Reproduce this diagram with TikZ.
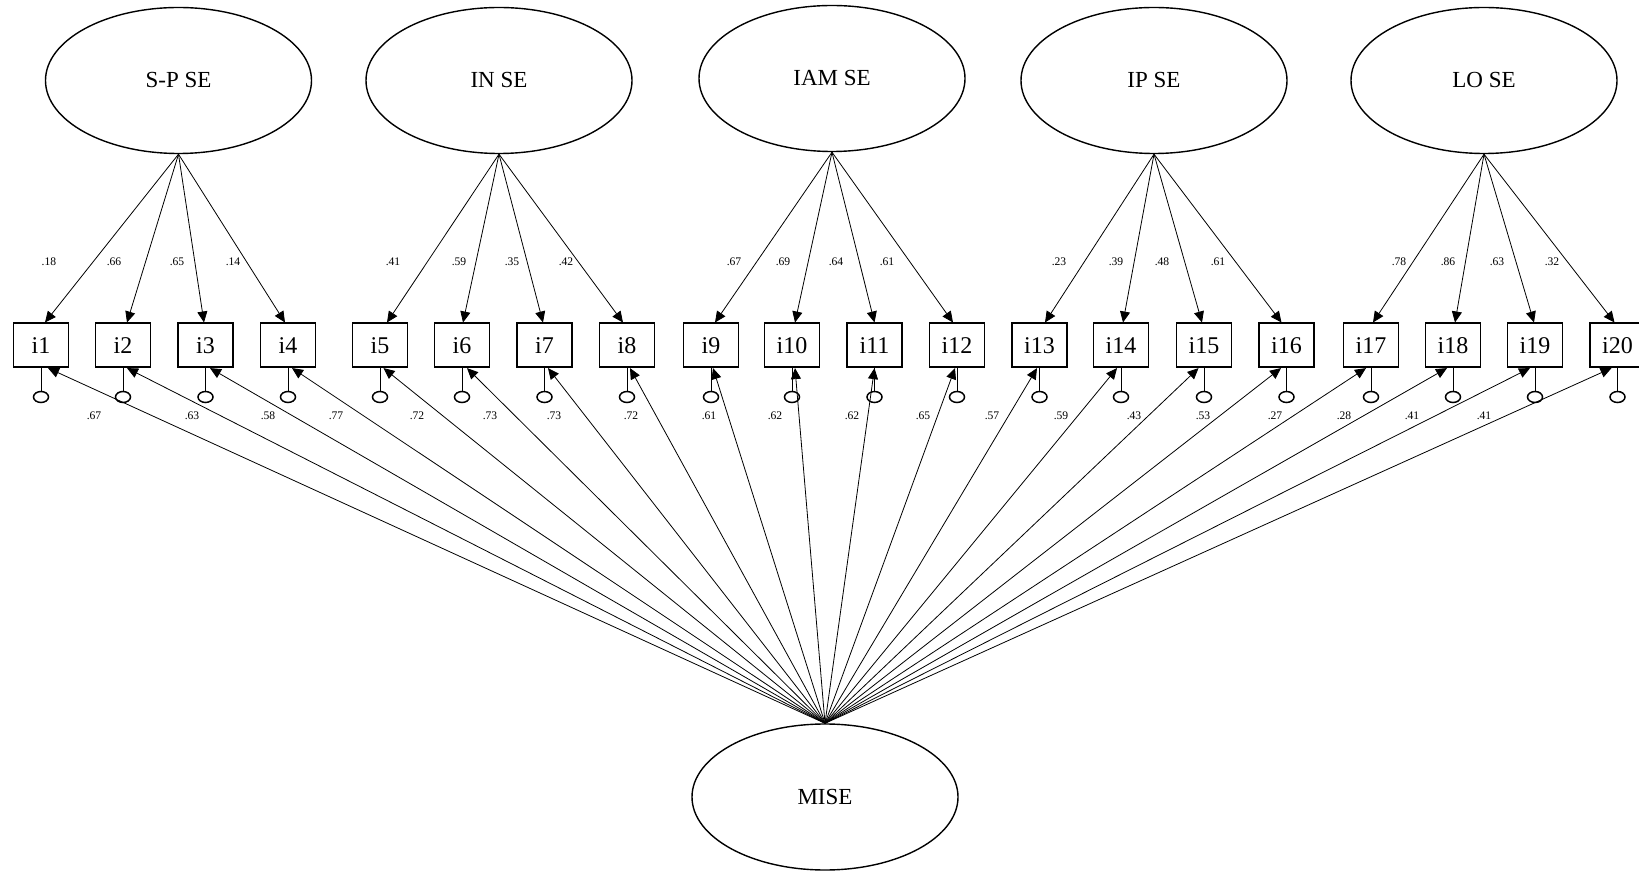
\documentclass[tikz,border=0pt]{standalone}
\usepackage{fontspec}
\setmainfont{Liberation Serif}
\usetikzlibrary{shapes.geometric,arrows.meta}

\begin{document}
\begin{tikzpicture}[x=0.5pt,y=-0.5pt,
    lat/.style={ellipse,draw,line width=0.7pt,minimum width=133pt,minimum height=73pt,inner sep=0pt,font=\fontsize{11.5}{13}\selectfont},
    obs/.style={rectangle,draw,line width=0.8pt,minimum width=27.5pt,minimum height=22pt,inner sep=0pt,font=\fontsize{12}{13}\selectfont},
    err/.style={ellipse,draw,line width=0.75pt,minimum width=7.5pt,minimum height=5.5pt,inner sep=0pt},
    coef/.style={inner sep=0pt,font=\fontsize{5.8}{6}\selectfont},
    load/.style={-{Triangle[length=5.5pt,width=5pt]},line width=0.4pt}]
  \useasboundingbox (0,0) rectangle (1639,871);

  % factors
  \node[lat] (spse) at (178.5,80.5) {S-P SE};
  \node[lat] (inse) at (499,80.5) {IN SE};
  \node[lat] (iamse) at (832,78.5) {IAM SE};
  \node[lat] (ipse) at (1154,80.5) {IP SE};
  \node[lat] (lose) at (1484,80.5) {LO SE};
  \node[lat] (mise) at (825,797) {MISE};

  % items with their errors
  \foreach \n/\x in {1/41,2/123,3/205.5,4/288,5/380,6/462,7/544.5,8/627,9/711,10/792,
                     11/874.5,12/957,13/1039.5,14/1121,15/1204,16/1286.5,17/1371,18/1453,19/1535,20/1617.5}{
    \node[obs] (i\n) at (\x,345.3) {i\n};
    \node[err] (e\n) at (\x,397) {};
    \draw[line width=0.5pt] (e\n) -- (i\n);
  }

  % first order loadings
  \foreach \f/\n/\s/\lx/\v in {spse/1/4/49/.18,spse/2/4/114/.66,spse/3/-1.5/177/.65,spse/4/-3/233/.14,
                              inse/5/7/393/.41,inse/6/1/459/.59,inse/7/-1.5/512/.35,inse/8/-4/566/.42,
                              iamse/9/4/734/.67,iamse/10/3/783/.69,iamse/11/0/836/.64,iamse/12/-4/887/.61,
                              ipse/13/5.5/1059/.23,ipse/14/2/1116/.39,ipse/15/-2/1162/.48,ipse/16/-5/1218/.61,
                              lose/17/2/1399/.78,lose/18/2/1448/.86,lose/19/-1/1497/.63,lose/20/-3/1552/.32}{
    \draw[load] (\f.south) -- ([xshift=\s*0.5pt]i\n.north);
    \node[coef] at (\lx,262) {\v};
  }

  % general factor
  \foreach \n/\s/\lx/\v in {1/7/94/.67,2/4/192/.63,3/4.5/268/.58,4/4/336/.77,5/3.5/417/.72,
                            6/5/490/.73,7/3.5/554/.73,8/3/631/.72,9/2/709/.61,10/3/775/.62,
                            11/0/852/.62,12/-2/923/.65,13/-2.5/992/.57,14/-4/1061/.59,15/-5.5/1134/.43,
                            16/-5.5/1203/.53,17/-5/1275/.27,18/-6/1344/.28,19/-5/1412/.41,20/-6/1484/.41}{
    \draw[load] (mise.north) -- ([xshift=\s*0.5pt]i\n.south);
    \node[coef] at (\lx,416) {\v};
  }
\end{tikzpicture}
\end{document}
